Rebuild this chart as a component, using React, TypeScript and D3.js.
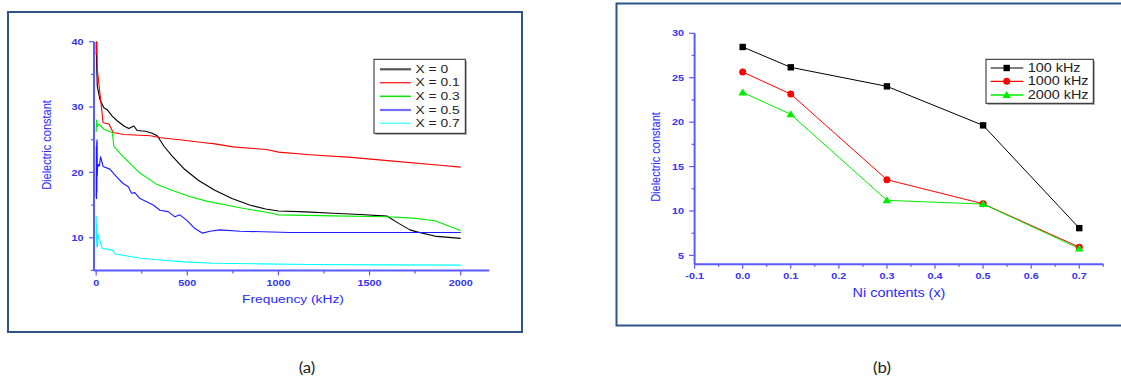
import React from "react";
import * as d3 from "d3";

// ---------- Panel (a) data: dielectric constant vs frequency (kHz) ----------
const seriesNamesA = ["X = 0", "X = 0.1", "X = 0.3", "X = 0.5", "X = 0.7"];
const colorsA = ["#000000", "#ff0000", "#00ee00", "#1a1aff", "#00ffff"];

const x0Freq = [0, 3, 6, 20, 42, 60, 88, 115, 152, 179, 207, 225, 271, 307, 335, 372, 417, 480, 560, 648, 745, 842, 930, 1000, 1150, 1300, 1450, 1597, 1660, 1722, 1760, 1868, 2000];
const x0Eps = [40, 36, 33.2, 31.2, 29.9, 29.6, 28.6, 27.9, 27.1, 26.7, 27.1, 26.4, 26.3, 26.0, 25.6, 24.0, 22.5, 20.6, 18.8, 17.3, 16.0, 15.0, 14.4, 14.1, 13.95, 13.75, 13.55, 13.3, 12.2, 11.2, 10.9, 10.2, 9.9];

const x1Freq = [0, 2, 4, 6, 20, 38, 70, 93, 152, 298, 353, 459, 606, 642, 752, 935, 1001, 1173, 1400, 1600, 1886, 2000];
const x1Eps = [38, 40, 40, 35.8, 32.2, 27.6, 27.4, 26.1, 25.8, 25.6, 25.3, 25.0, 24.5, 24.4, 23.9, 23.5, 23.1, 22.7, 22.3, 21.8, 21.1, 20.8];

const x3Freq = [0, 2, 5, 15, 42, 88, 97, 115, 148, 240, 331, 423, 514, 606, 789, 971, 1000, 1300, 1597, 1740, 1859, 2000];
const x3Eps = [26.2, 28.0, 27.0, 27.4, 26.6, 26.1, 24.0, 23.4, 22.4, 19.9, 18.2, 17.2, 16.3, 15.6, 14.6, 13.7, 13.5, 13.35, 13.2, 13.0, 12.6, 11.1];

const x5Freq = [0, 1, 2, 3, 4, 5, 6, 8, 11, 14, 18, 24, 38, 75, 112, 148, 176, 194, 212, 240, 277, 313, 350, 395, 432, 459, 496, 542, 584, 624, 679, 789, 1063, 1500, 2000];
const x5Eps = [16.2, 24.0, 16.0, 24.7, 17.0, 25.0, 19.5, 21.2, 20.9, 21.2, 21.0, 22.4, 20.9, 20.5, 19.3, 18.3, 17.8, 16.8, 16.9, 16.0, 15.5, 15.0, 14.2, 14.0, 13.2, 13.5, 12.7, 11.4, 10.7, 11.0, 11.2, 11.0, 10.8, 10.8, 10.8];

const x7Freq = [0, 1, 2, 3, 5, 7, 10, 15, 33, 88, 100, 106, 170, 243, 353, 481, 642, 900, 1173, 1600, 2000];
const x7Eps = [13.3, 9.5, 12.0, 8.7, 10.9, 8.6, 10.5, 10.0, 8.4, 8.1, 7.7, 7.5, 7.2, 6.85, 6.6, 6.3, 6.1, 6.0, 5.9, 5.85, 5.8];

const freqTicksMajor = [0, 500, 1000, 1500, 2000];
const freqTicksMinor = [250, 750, 1250, 1750];
const epsTicksMajorA = [10, 20, 30, 40];
const epsTicksMinorA = [5, 15, 25, 35];

// ---------- Panel (b) data: dielectric constant vs Ni content ----------
const niContents = [0.0, 0.1, 0.3, 0.5, 0.7];
const eps100k = [28.46, 26.17, 24.03, 19.64, 8.07];
const eps1000k = [25.64, 23.16, 13.52, 10.81, 5.93];
const eps2000k = [23.35, 20.88, 11.2, 10.78, 5.78];
const seriesNamesB = ["100 kHz", "1000 kHz", "2000 kHz"];
const colorsB = ["#000000", "#ff0000", "#00ee00"];
const niTicksMajor = [-0.1, 0.0, 0.1, 0.2, 0.3, 0.4, 0.5, 0.6, 0.7];
const niTicksMinor = [-0.05, 0.05, 0.15, 0.25, 0.35, 0.45, 0.55, 0.65, 0.75];
const epsTicksMajorB = [5, 10, 15, 20, 25, 30];
const epsTicksMinorB = [7.5, 12.5, 17.5, 22.5, 27.5];

const AXIS = "#5a5aff";
const TICKTXT = "#3535ee";
const FONT = "'Liberation Sans', Arial, sans-serif";
const SX = 1.2;

function SText(props: any) {
  const { x, y, rot, size, fill, anchor, children, family, weight, sx } = props;
  const tr = `translate(${x},${y}) scale(${sx ?? SX},1)` + (rot ? ` rotate(${rot})` : "");
  return (
    <text transform={tr} fontSize={size} fill={fill} textAnchor={anchor || "start"}
      fontFamily={family || FONT} fontWeight={weight || "normal"} dominantBaseline="central">
      {children}
    </text>
  );
}

function MarkerB({ i, x, y }: { i: number; x: number; y: number }) {
  if (i === 0) return <rect x={x - 3.2} y={y - 3.2} width={6.4} height={6.4} fill="#000" />;
  if (i === 1) return <circle cx={x} cy={y} r={3.5} fill="#ff0000" />;
  const p = d3.path();
  p.moveTo(x, y - 4);
  p.lineTo(x + 4.3, y + 3);
  p.lineTo(x - 4.3, y + 3);
  p.closePath();
  return <path d={p.toString()} fill="#00ee00" />;
}

export default function App() {
  // ----- panel a scales
  const xa = d3.scaleLinear().domain([-12, 2157]).range([94, 489.3]);
  const ya = d3.scaleLinear().domain([5, 40]).range([270.4, 41.7]);
  const lineA = d3.line<[number, number]>().x((d) => xa(d[0])).y((d) => ya(d[1]));
  const seriesA = [
    [x0Freq, x0Eps],
    [x1Freq, x1Eps],
    [x3Freq, x3Eps],
    [x5Freq, x5Eps],
    [x7Freq, x7Eps],
  ].map(([f, e]) => f.map((v, i) => [v, e[i]] as [number, number]));

  // ----- panel b scales
  const xb = d3.scaleLinear().domain([-0.1, 0.75]).range([694.6, 1103.3]);
  const yb = d3.scaleLinear().domain([4, 30]).range([264.3, 33.3]);
  const lineB = d3.line<[number, number]>().x((d) => xb(d[0])).y((d) => yb(d[1]));
  const seriesB = [eps100k, eps1000k, eps2000k].map((s) => niContents.map((n, i) => [n, s[i]] as [number, number]));

  const legendA = { x: 374, y: 59.3, w: 91.3, h: 74, rows: [69.3, 82.7, 96.3, 110, 123.3] };
  const legendLineStyleA = [
    { c: "#555555", w: 2.2 },
    { c: "#ff2020", w: 1.3 },
    { c: "#10e010", w: 1.5 },
    { c: "#7070ff", w: 2.2 },
    { c: "#60ffff", w: 1.5 },
  ];
  const legendB = { x: 986, y: 59.3, w: 107.3, h: 44, rows: [68, 81.3, 95] };

  return (
    <svg width={1121} height={376} style={{ position: "absolute", left: 0, top: 0, background: "#fff" }}>
      {/* frames */}
      <rect x={8} y={12} width={514} height={320} fill="none" stroke="#2f5486" strokeWidth={2} />
      <rect x={616.5} y={3.5} width={540} height={322} fill="none" stroke="#2f5486" strokeWidth={2} />

      {/* ===== Panel (a) ===== */}
      <g>
        {seriesA.map((s, i) => (
          <path key={i} d={lineA(s) || ""} fill="none" stroke={colorsA[i]} strokeWidth={1.1} strokeLinejoin="round" />
        ))}
        <line x1={xa(-12)} x2={xa(-12)} y1={ya(40)} y2={ya(5)} stroke={AXIS} strokeWidth={2} />
        <line x1={xa(-12)} x2={xa(2157)} y1={ya(5)} y2={ya(5)} stroke={AXIS} strokeWidth={2} />
        {epsTicksMajorA.map((t) => (
          <g key={t}>
            <line x1={xa(-12) - 5} x2={xa(-12)} y1={ya(t)} y2={ya(t)} stroke={AXIS} strokeWidth={1.2} />
            <SText x={xa(-12) - 10.5} y={ya(t)} size={9} fill={TICKTXT} anchor="end" weight="bold">{t}</SText>
          </g>
        ))}
        {epsTicksMinorA.map((t) => (
          <line key={t} x1={xa(-12) - 3} x2={xa(-12)} y1={ya(t)} y2={ya(t)} stroke={AXIS} strokeWidth={1.2} />
        ))}
        {freqTicksMajor.map((t) => (
          <g key={t}>
            <line x1={xa(t)} x2={xa(t)} y1={ya(5)} y2={ya(5) + 5} stroke={AXIS} strokeWidth={1.2} />
            <SText x={xa(t)} y={ya(5) + 12.5} size={9} fill={TICKTXT} anchor="middle" weight="bold">{t}</SText>
          </g>
        ))}
        {freqTicksMinor.map((t) => (
          <line key={t} x1={xa(t)} x2={xa(t)} y1={ya(5)} y2={ya(5) + 3} stroke={AXIS} strokeWidth={1.2} />
        ))}
        <SText x={293} y={299} size={11.5} fill="#2a2aff" anchor="middle">Frequency (kHz)</SText>
        <SText x={46.5} y={145} rot={-90} size={11} fill="#2a2aff" anchor="middle">Dielectric constant</SText>

        <rect x={legendA.x + 1.5} y={legendA.y + 1.5} width={legendA.w} height={legendA.h} fill="#9a9a9a" />
        <rect x={legendA.x} y={legendA.y} width={legendA.w} height={legendA.h} fill="#fff" stroke="#222" strokeWidth={1} />
        {seriesNamesA.map((n, i) => (
          <g key={n}>
            <line x1={380} x2={411} y1={legendA.rows[i]} y2={legendA.rows[i]} stroke={legendLineStyleA[i].c} strokeWidth={legendLineStyleA[i].w} />
            <SText x={415.5} y={legendA.rows[i]} size={11.5} fill="#222">{n}</SText>
          </g>
        ))}
        <SText x={307} y={367} size={16} sx={1.05} fill="#222" anchor="middle" family="Lato, 'Open Sans', sans-serif">(a)</SText>
      </g>

      {/* ===== Panel (b) ===== */}
      <g>
        {seriesB.map((s, i) => (
          <path key={i} d={lineB(s) || ""} fill="none" stroke={colorsB[i]} strokeWidth={1} />
        ))}
        {seriesB.map((s, i) => s.map((d, j) => <MarkerB key={`${i}-${j}`} i={i} x={xb(d[0])} y={yb(d[1])} />))}
        <line x1={xb(-0.1)} x2={xb(-0.1)} y1={yb(30)} y2={yb(4)} stroke={AXIS} strokeWidth={2} />
        <line x1={xb(-0.1)} x2={xb(0.75)} y1={yb(4)} y2={yb(4)} stroke={AXIS} strokeWidth={2} />
        {epsTicksMajorB.map((t) => (
          <g key={t}>
            <line x1={xb(-0.1) - 5.5} x2={xb(-0.1)} y1={yb(t)} y2={yb(t)} stroke={AXIS} strokeWidth={1.2} />
            <SText x={xb(-0.1) - 10.5} y={yb(t)} size={9} fill={TICKTXT} anchor="end" weight="bold">{t}</SText>
          </g>
        ))}
        {epsTicksMinorB.map((t) => (
          <line key={t} x1={xb(-0.1) - 3} x2={xb(-0.1)} y1={yb(t)} y2={yb(t)} stroke={AXIS} strokeWidth={1.2} />
        ))}
        {niTicksMajor.map((t) => (
          <g key={t}>
            <line x1={xb(t)} x2={xb(t)} y1={yb(4)} y2={yb(4) + 4.5} stroke={AXIS} strokeWidth={1.2} />
            <SText x={xb(t)} y={yb(4) + 12} size={9} fill={TICKTXT} anchor="middle" weight="bold">{t.toFixed(1)}</SText>
          </g>
        ))}
        {niTicksMinor.map((t) => (
          <line key={t} x1={xb(t)} x2={xb(t)} y1={yb(4)} y2={yb(4) + 2.5} stroke={AXIS} strokeWidth={1.2} />
        ))}
        <SText x={899} y={293.3} size={12} fill="#2a2aff" anchor="middle">Ni contents (x)</SText>
        <SText x={656} y={157} rot={-90} size={11} fill="#2a2aff" anchor="middle">Dielectric constant</SText>

        <rect x={legendB.x + 1.5} y={legendB.y + 1.5} width={legendB.w} height={legendB.h} fill="#9a9a9a" />
        <rect x={legendB.x} y={legendB.y} width={legendB.w} height={legendB.h} fill="#fff" stroke="#222" strokeWidth={1} />
        {seriesNamesB.map((n, i) => (
          <g key={n}>
            <line x1={990.7} x2={1023.3} y1={legendB.rows[i]} y2={legendB.rows[i]} stroke={i === 0 ? "#555" : colorsB[i]} strokeWidth={1.3} />
            <MarkerB i={i} x={1006.7} y={legendB.rows[i]} />
            <SText x={1027.7} y={legendB.rows[i]} size={12} fill="#222">{n}</SText>
          </g>
        ))}
        <SText x={882} y={367} size={16} sx={1.05} fill="#222" anchor="middle" family="Lato, 'Open Sans', sans-serif">(b)</SText>
      </g>
    </svg>
  );
}
